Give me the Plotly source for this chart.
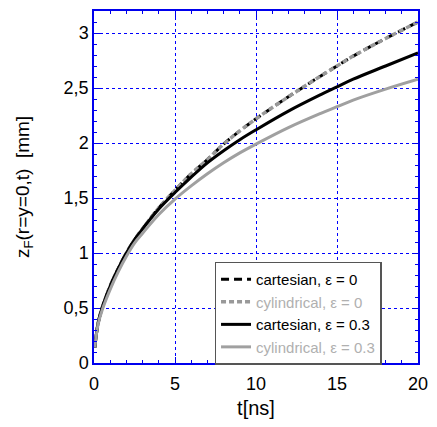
import plotly.graph_objects as go

t = [0.05, 0.25, 0.5, 1, 1.5, 2, 2.5, 3, 4, 5, 6, 7, 8, 9, 10, 12, 14, 15, 16, 18, 20]
cart_e0 = [0.14, 0.36, 0.50, 0.70, 0.86, 1.00, 1.12, 1.22, 1.41, 1.57, 1.72, 1.85, 1.99, 2.11, 2.22, 2.42, 2.61, 2.70, 2.79, 2.95, 3.10]
cyl_e0 = [0.14, 0.36, 0.50, 0.70, 0.86, 1.00, 1.12, 1.22, 1.41, 1.57, 1.72, 1.85, 1.99, 2.11, 2.22, 2.42, 2.61, 2.70, 2.79, 2.95, 3.10]
cart_e3 = [0.14, 0.36, 0.50, 0.70, 0.86, 1.00, 1.12, 1.22, 1.40, 1.55, 1.69, 1.82, 1.93, 2.03, 2.12, 2.29, 2.44, 2.51, 2.58, 2.70, 2.82]
cyl_e3 = [0.14, 0.35, 0.48, 0.67, 0.83, 0.97, 1.09, 1.18, 1.35, 1.49, 1.61, 1.72, 1.82, 1.91, 1.99, 2.14, 2.27, 2.33, 2.39, 2.49, 2.58]

names = ["cartesian, ε = 0", "cylindrical, ε = 0", "cartesian, ε = 0.3", "cylindrical, ε = 0.3"]

fig = go.Figure()
fig.add_trace(go.Scatter(x=t, y=cart_e0, mode="lines", name=names[0],
                         line=dict(color="black", width=3, dash="8px,5px"), line_shape="spline"))
fig.add_trace(go.Scatter(x=t, y=cyl_e0, mode="lines",
                         name="<span style='color:#b0b0b0'>" + names[1] + "</span>",
                         line=dict(color="#999999", width=3.5, dash="5px,3px"), line_shape="spline"))
fig.add_trace(go.Scatter(x=t, y=cart_e3, mode="lines", name=names[2],
                         line=dict(color="black", width=3), line_shape="spline"))
fig.add_trace(go.Scatter(x=t, y=cyl_e3, mode="lines",
                         name="<span style='color:#b0b0b0'>" + names[3] + "</span>",
                         line=dict(color="#a0a0a0", width=3), line_shape="spline"))

axis_common = dict(
    showline=True, linecolor="#0000ee", linewidth=1.5, mirror="ticks",
    ticks="inside", tickcolor="#0000ee", ticklen=6, tickwidth=1,
    showgrid=True, gridcolor="#0000ff", griddash="dot", gridwidth=1,
    zeroline=False, tickfont=dict(family="Liberation Sans, Arial", size=18, color="black"),
    ticklabeloverflow="allow",
)

fig.update_layout(
    width=437, height=427,
    margin=dict(l=94, r=10, t=9, b=64),
    paper_bgcolor="white", plot_bgcolor="white",
    separators=",.",
    font=dict(family="Liberation Sans, Arial", color="black"),
    xaxis=dict(range=[0, 20], tickvals=[0, 5, 10, 15, 20],
               minor=dict(dtick=1, ticks="inside", ticklen=3, tickcolor="#0000ee", showgrid=False),
               title=dict(text="t[ns]", font=dict(size=20), standoff=8),
               ticklabelstandoff=4,
               **axis_common),
    yaxis=dict(range=[0, 3.2], tickvals=[0, 0.5, 1, 1.5, 2, 2.5, 3],
               minor=dict(dtick=0.1, ticks="inside", ticklen=3, tickcolor="#0000ee", showgrid=False),
               title=dict(text="z<sub>F</sub>(r=y=0,t)  [mm]", font=dict(size=19), standoff=29),
               **axis_common),
    legend=dict(x=0.372, y=0.288, xanchor="left", yanchor="top",
                bgcolor="white", bordercolor="#555555", borderwidth=1.5,
                font=dict(size=15), tracegroupgap=0, itemwidth=30),
    showlegend=True,
)

fig.write_html("out.html",
               config={"responsive": False, "displayModeBar": False},
               post_script="document.body.style.margin='0';")
